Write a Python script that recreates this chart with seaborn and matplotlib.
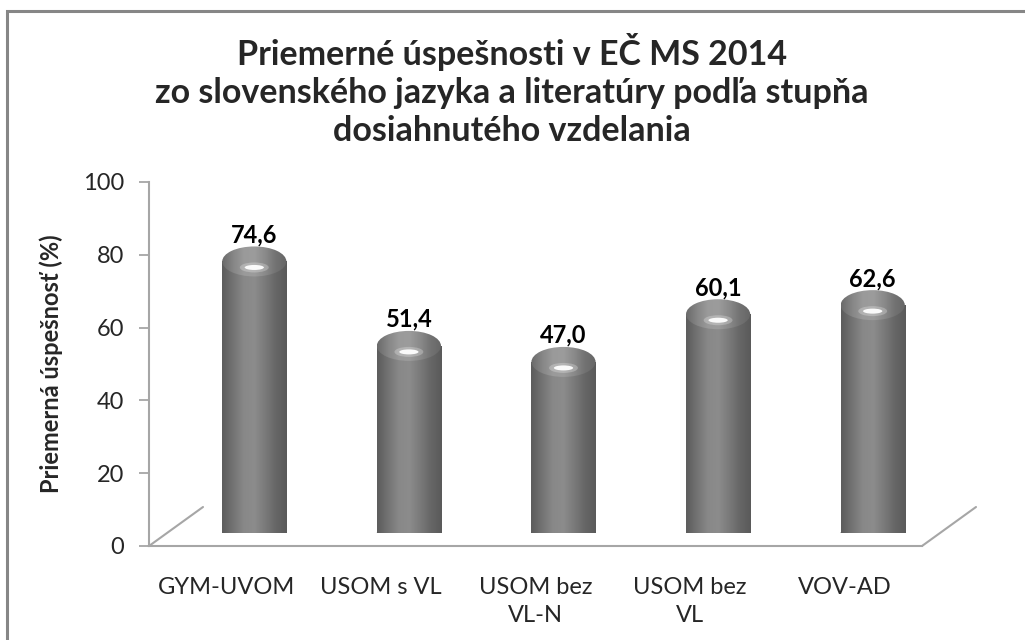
import numpy as np
import pandas as pd
import matplotlib
matplotlib.use("Agg")
import matplotlib.pyplot as plt
import seaborn as sns
from matplotlib.patches import Ellipse, Rectangle
from matplotlib.colors import LinearSegmentedColormap

# data
categories = ["GYM-UVOM", "USOM s VL", "USOM bez\nVL-N", "USOM bez\nVL", "VOV-AD"]
values = [74.6, 51.4, 47.0, 60.1, 62.6]
value_labels = ["74,6", "51,4", "47,0", "60,1", "62,6"]
y_ticks = [0, 20, 40, 60, 80, 100]

title = ("Priemerné úspešnosti v EČ MS 2014\n"
         "zo slovenského jazyka a literatúry podľa stupňa\n"
         "dosiahnutého vzdelania")
y_label = "Priemerná úspešnosť (%)"

sns.set_theme(style="white")
plt.rcParams["font.family"] = ["Lato", "DejaVu Sans"]

W, H = 1025, 640
fig = plt.figure(figsize=(W / 100, H / 100), dpi=100)

axis_col = "#a6a6a6"

# front axes: ticks, labels, floor
left, right, top, bottom = 149, 922, 182, 546
ax = fig.add_axes([left / W, (H - bottom) / H, (right - left) / W, (bottom - top) / H])
# depth-shifted axes for the cylinders
dx, dy = 28, 13
bx = fig.add_axes([(left + dx) / W, (H - bottom + dy) / H, (right - left) / W, (bottom - top) / H])
bx.patch.set_alpha(0)

df = pd.DataFrame({"cat": categories, "val": values})

for a in (ax, bx):
    a.set_xlim(-0.5, len(categories) - 0.5)
    a.set_ylim(0, 100)

# front axis styling
ax.set_xticks(range(len(categories)))
ax.set_xticklabels(categories, fontsize=17, linespacing=1.45, va="top")
ax.set_yticks(y_ticks)
ax.set_yticklabels([str(t) for t in y_ticks], fontsize=17)
ax.tick_params(axis="y", length=7, width=1.3, color=axis_col, pad=11, direction="out", left=True)
ax.tick_params(axis="x", length=0, pad=22)
for s in ["top", "right"]:
    ax.spines[s].set_visible(False)
for s in ["left", "bottom"]:
    ax.spines[s].set_color(axis_col)
    ax.spines[s].set_linewidth(1.5)
ax.set_ylabel(y_label, fontsize=17, fontweight="bold", labelpad=14)

# floor diagonals
ax.plot([0, 54 / (right - left)], [0, 39 / (bottom - top)], transform=ax.transAxes,
        color=axis_col, lw=1.5, clip_on=False)
ax.plot([1, 1 + 54 / (right - left)], [0, 39 / (bottom - top)], transform=ax.transAxes,
        color=axis_col, lw=1.5, clip_on=False)

# cylinders
sns.barplot(data=df, x="cat", y="val", ax=bx, color="#7f7f7f", width=0.415,
            saturation=1, edgecolor="none", zorder=2)
bx.axis("off")

cyl = LinearSegmentedColormap.from_list(
    "cyl", ["#5c5c5c", "#727272", "#888888", "#8c8c8c", "#7a7a7a", "#666666", "#5a5a5a"])
capmap = LinearSegmentedColormap.from_list(
    "cap", ["#6a6a6a", "#858585", "#9a9a9a", "#9c9c9c", "#8a8a8a", "#727272", "#666666"])
grad = np.linspace(0, 1, 256).reshape(1, -1)

px_per_unit = (bottom - top) / 100.0
cap_h = 20 / px_per_unit
for p, lab in zip(bx.patches, value_labels):
    x0, w, h = p.get_x(), p.get_width(), p.get_height()
    xc = x0 + w / 2
    im = bx.imshow(grad, cmap=cyl, extent=[x0, x0 + w, 0, h], aspect="auto",
                   zorder=3, interpolation="bicubic")
    im.set_clip_path(p)
    # base curve
    base = Ellipse((xc, 0), w, cap_h * 0.8, color="#666666", zorder=2.5, lw=0)
    bx.add_patch(base)
    # dome cap
    cap = Ellipse((xc, h), w, cap_h * 1.5, facecolor="none", edgecolor="none", zorder=4)
    bx.add_patch(cap)
    cim = bx.imshow(grad, cmap=capmap, extent=[x0, x0 + w, h - cap_h, h + cap_h],
                    aspect="auto", zorder=4, interpolation="bicubic")
    cim.set_clip_path(cap)
    # highlight
    bx.add_patch(Ellipse((xc, h - cap_h * 0.3), w * 0.45, cap_h * 0.5,
                         facecolor="white", lw=0, zorder=4.6, alpha=0.25))
    bx.add_patch(Ellipse((xc, h - cap_h * 0.3), w * 0.3, cap_h * 0.25,
                         facecolor="white", lw=0, zorder=5, alpha=0.95))
    bx.text(xc, h + cap_h * 0.75, lab, ha="center", va="bottom",
            fontsize=17, fontweight="bold", color="black")
bx.set_xlim(-0.5, len(categories) - 0.5)
bx.set_ylim(0, 100)

fig.text(512 / W, 1 - 90 / H, title, ha="center", va="center", fontsize=24.5,
         fontweight="bold", linespacing=1.22)

# chart border (only top and left visible)
fig.patches.append(Rectangle((7 / W, -0.1), 1.2, (H - 11) / H + 0.1, transform=fig.transFigure,
                             fill=False, edgecolor="#868686", lw=2.2))

fig.savefig("out.png", dpi=100)
